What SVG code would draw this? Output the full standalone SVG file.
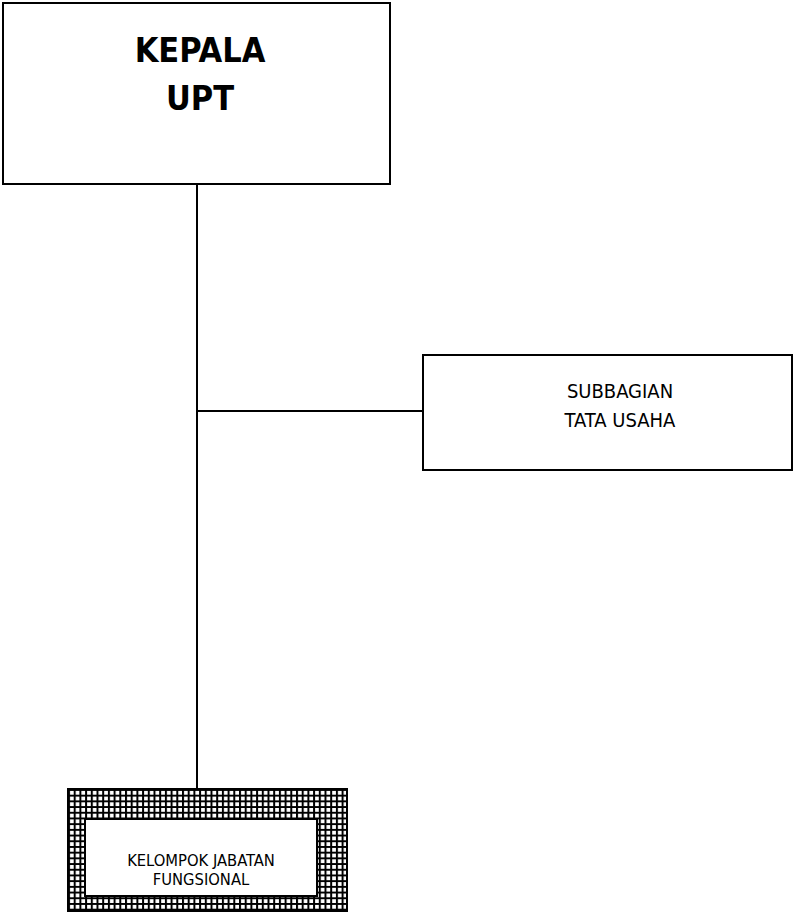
<svg xmlns="http://www.w3.org/2000/svg" width="795" height="915" viewBox="0 0 795 915">
<style>
.box{fill:#fff;stroke:#000;stroke-width:2}
.ln{stroke:#000;stroke-width:2;fill:none}
.t{font-family:"DejaVu Sans Condensed","DejaVu Sans",sans-serif;font-stretch:condensed;text-anchor:middle;fill:#000}
</style>
<defs>
<pattern id="grid" x="68" y="789" width="5.7" height="5.7" patternUnits="userSpaceOnUse">
<rect width="5.7" height="5.7" fill="#fff"/>
<path d="M0 1H5.7M1 0V5.7" stroke="#000" stroke-width="2"/>
</pattern>
</defs>
<g id="connectors">
<line class="ln" x1="197" y1="184" x2="197" y2="789"/>
<line class="ln" x1="197" y1="411" x2="423" y2="411"/>
</g>
<g id="kepala">
<rect class="box" x="3" y="3" width="387" height="181"/>
<text class="t" x="200" y="62" font-size="34" font-weight="bold">KEPALA</text>
<text class="t" x="200" y="110" font-size="34" font-weight="bold">UPT</text>
</g>
<g id="subbagian">
<rect class="box" x="423" y="355" width="369" height="115"/>
<text class="t" x="620" y="398" font-size="20">SUBBAGIAN</text>
<text class="t" x="620" y="427" font-size="20">TATA USAHA</text>
</g>
<g id="fungsional">
<rect x="68" y="789" width="279" height="122" fill="url(#grid)" stroke="#000" stroke-width="2"/>
<rect class="box" x="85" y="819" width="232" height="77"/>
<text class="t" x="201" y="866" font-size="16.4">KELOMPOK JABATAN</text>
<text class="t" x="201" y="884.5" font-size="16.4">FUNGSIONAL</text>
</g>
</svg>
